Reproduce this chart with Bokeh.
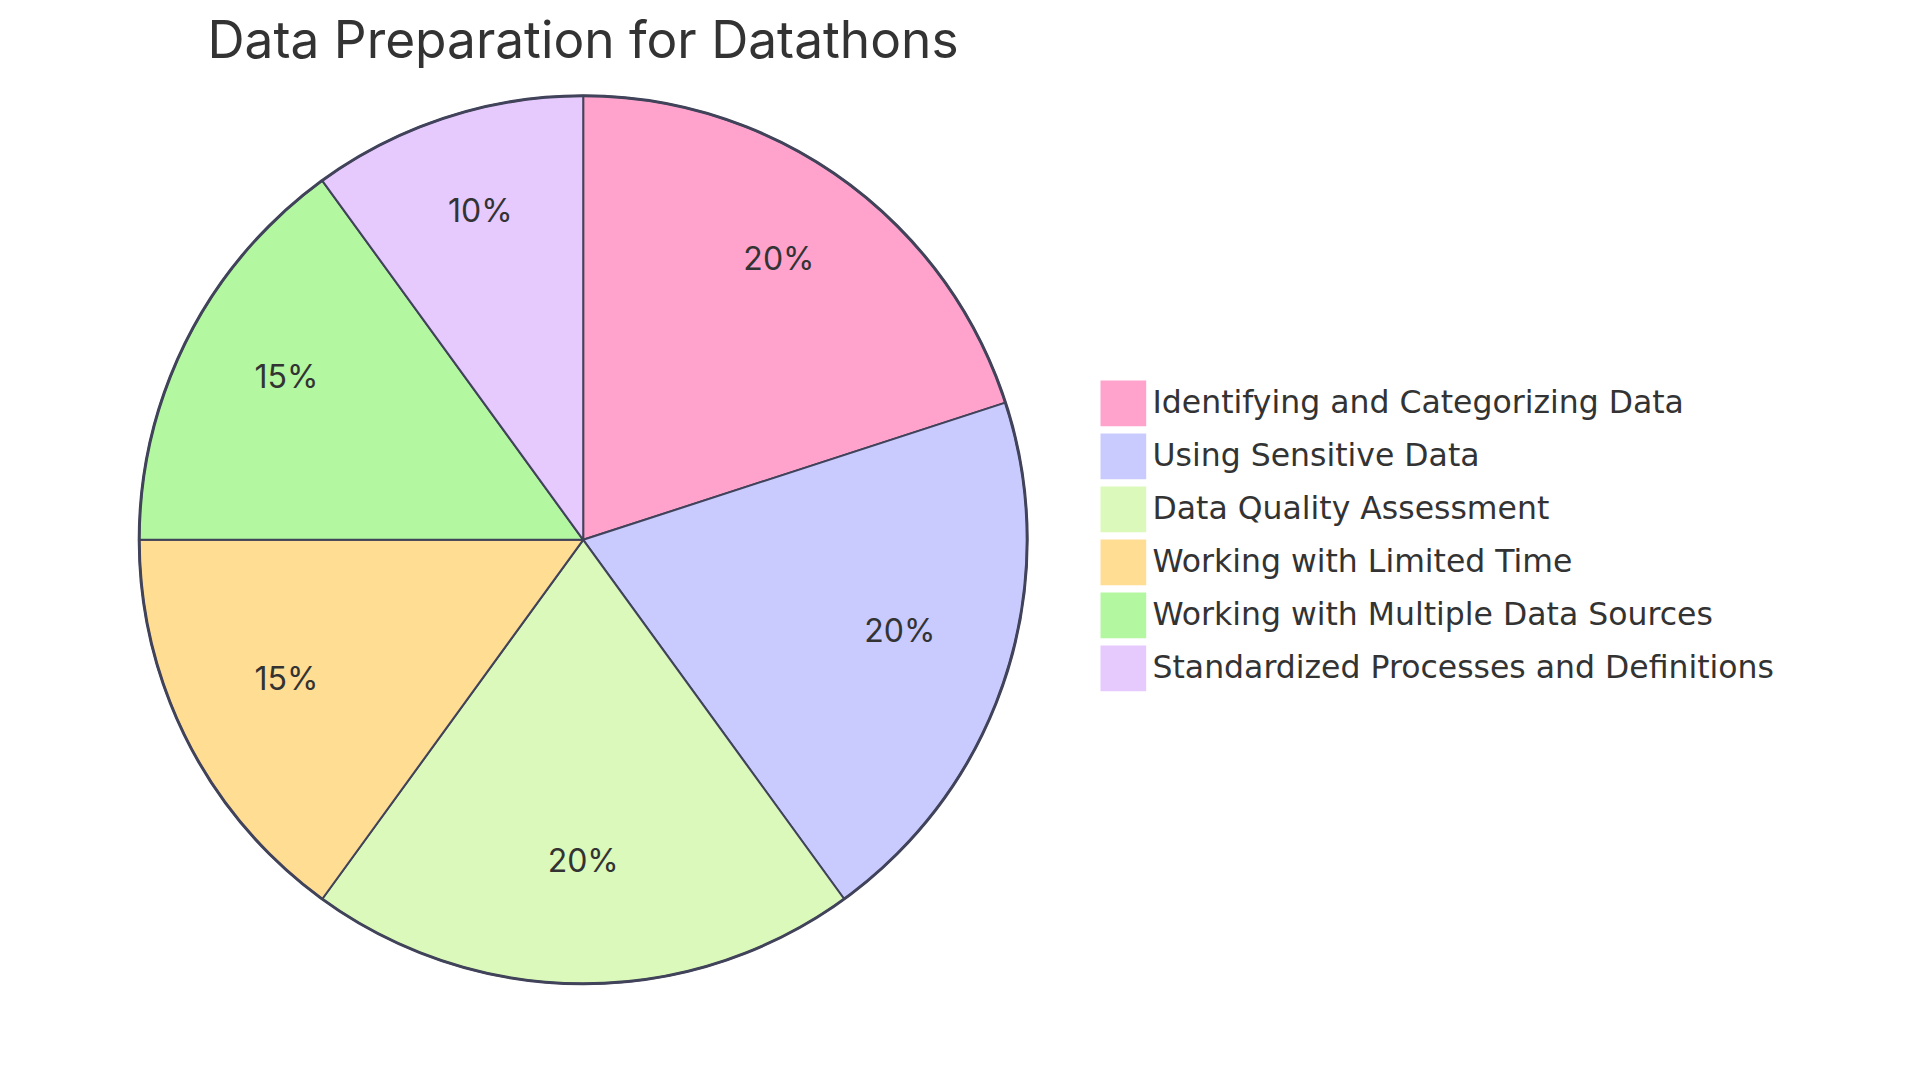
import math
from bokeh.plotting import figure
from bokeh.models import Range1d, ColumnDataSource
from bokeh.core.properties import value
from bokeh.embed import file_html
from bokeh.resources import INLINE

title_text = "Data Preparation for Datathons"
categories = [
    "Identifying and Categorizing Data",
    "Using Sensitive Data",
    "Data Quality Assessment",
    "Working with Limited Time",
    "Working with Multiple Data Sources",
    "Standardized Processes and Definitions",
]
values = [20, 20, 20, 15, 15, 10]
colors = ["#FFA3CD", "#C9CBFE", "#DBF9BA", "#FFDE94", "#B3F7A0", "#E6CAFE"]

W, H = 1900, 1060
FONT = "Inter"
LEG_FONT = "DejaVu Sans"
TEXT_COLOR = "#333333"
STROKE = "#41435A"

p = figure(width=W, height=H, output_backend="svg", toolbar_location=None,
           x_range=Range1d(0, W), y_range=Range1d(0, H), min_border=0)
p.axis.visible = False
p.grid.visible = False
p.outline_line_color = None
p.background_fill_color = "white"
p.border_fill_color = "white"

def Y(py):
    return H - py

# pie geometry (pixels in figure space)
cx, cy, R = 582.7, 539.3, 444.0
RL = 333.0

total = float(sum(values))
starts, ends, mids = [], [], []
acc = 0.0
for v in values:
    a0 = acc / total * 2 * math.pi
    acc += v
    a1 = acc / total * 2 * math.pi
    starts.append(math.pi / 2 - a0)
    ends.append(math.pi / 2 - a1)
    mids.append((a0 + a1) / 2)

src = ColumnDataSource(dict(x=[cx] * len(values), y=[Y(cy)] * len(values),
                            start=starts, end=ends, color=colors))
p.wedge(x="x", y="y", radius=R, radius_units="screen", start_angle="start",
        end_angle="end", direction="clock", fill_color="color",
        line_color=STROKE, line_width=2, source=src)
# outer ring
p.scatter(x=[cx], y=[Y(cy)], size=2 * R, marker="circle", fill_color=None,
          line_color=STROKE, line_width=3)

# slice labels
LBL = 32
lx = [cx + RL * math.sin(m) for m in mids]
ly = [Y(cy - RL * math.cos(m) + 0.7 - 0.4 * LBL) for m in mids]
labels = [f"{v / total * 100:.0f}%" for v in values]
p.text(x=lx, y=ly, text=labels, text_align="center", text_baseline="alphabetic",
       text_font=value(FONT), text_font_size=f"{LBL}px", text_color=TEXT_COLOR)

# title
TS = 51.4
p.text(x=[207.0], y=[Y(59.3 - 0.4 * TS)], text=[title_text], text_align="left",
       text_baseline="alphabetic", text_font=value(FONT), text_font_size=f"{TS}px",
       text_color=TEXT_COLOR)

# legend
LS = 31.5
pitch = 53.0
sq = 45.7
leg_x = 1100.0
leg_y0 = 380.0
n = len(categories)
sq_x = [leg_x + sq / 2] * n
sq_y = [Y(leg_y0 + i * pitch + sq / 2) for i in range(n)]
p.rect(x=sq_x, y=sq_y, width=sq, height=sq, width_units="screen",
       height_units="screen", fill_color=colors, line_color=None)
tx = [1152.0] * n
ty = [Y(413.8 + i * pitch - 0.4 * LS) for i in range(n)]
p.text(x=tx, y=ty, text=categories, text_align="left", text_baseline="alphabetic",
       text_font=value(LEG_FONT), text_font_size=f"{LS}px", text_color=TEXT_COLOR)

open("out.html", "w").write(file_html(p, INLINE))
